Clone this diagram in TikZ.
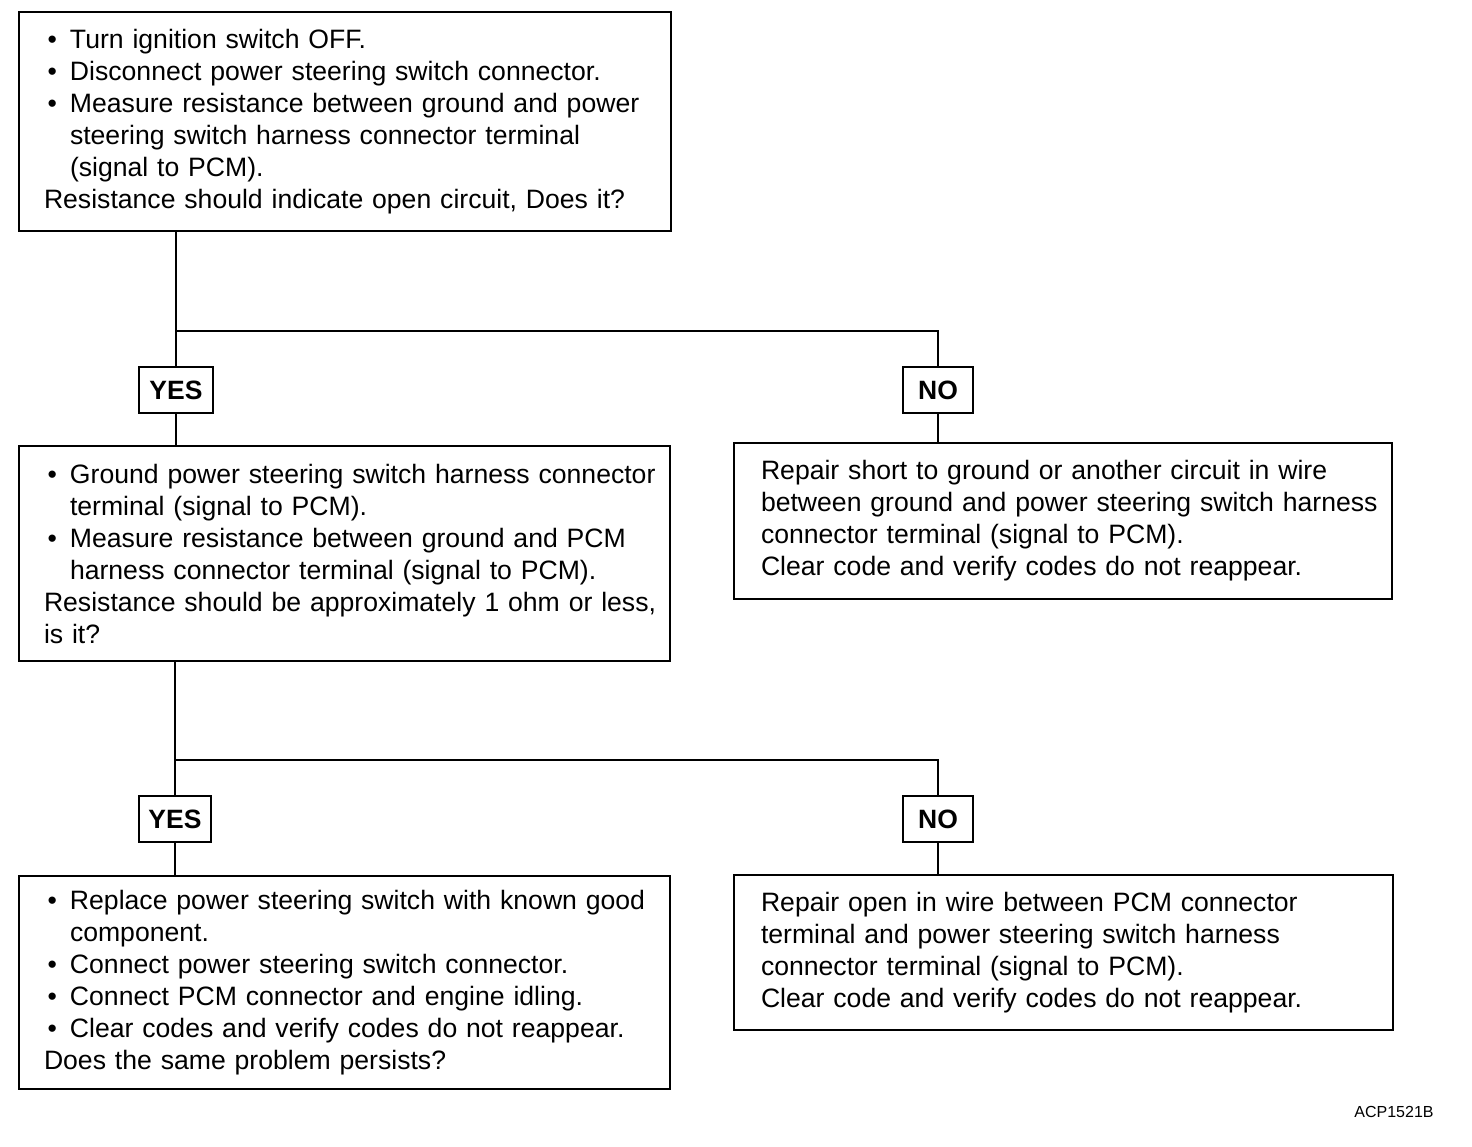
\documentclass[tikz,border=0pt]{standalone}
\usepackage{fontspec}
\setmainfont{Liberation Sans}
\newcommand\fbul[1]{\makebox[26pt][l]{\hspace{3.5pt}\textbullet}\mbox{#1}}
\newcommand\fcont[1]{\hspace*{26pt}\mbox{#1}}
\newcommand\fpl[1]{\mbox{#1}}
\begin{document}
\begin{tikzpicture}[x=1pt,y=-1pt,
  stepbox/.style={draw, line width=2.6pt, outer sep=0pt, anchor=north west, inner ysep=0pt, align=left, font=\fontsize{26.6}{32}\selectfont},
  ynbox/.style={draw, line width=2.6pt, minimum height=46pt, inner sep=0pt, font=\fontsize{26.5}{30}\selectfont\bfseries},
  conn/.style={line width=2.6pt}]
\fill[white] (0,0) rectangle (1472,1146);
\useasboundingbox (0,0) rectangle (1472,1146);

\node[stepbox, minimum width=652pt, minimum height=219pt, inner xsep=25pt, text width=602pt] (b1) at (19,12) {%
\fbul{Turn ignition switch OFF.}\\
\fbul{Disconnect power steering switch connector.}\\
\fbul{Measure resistance between ground and power}\\
\fcont{steering switch harness connector terminal}\\
\fcont{(signal to PCM).}\\
\fpl{Resistance should indicate open circuit, Does it?}};

\node[ynbox, minimum width=74pt] (y1) at (176,390) {YES};
\node[ynbox, minimum width=70pt] (n1) at (938,390) {NO};

\node[stepbox, minimum width=651pt, minimum height=215pt, inner xsep=25pt, text width=601pt] (b2) at (19,446) {%
\fbul{Ground power steering switch harness connector}\\
\fcont{terminal (signal to PCM).}\\
\fbul{Measure resistance between ground and PCM}\\
\fcont{harness connector terminal (signal to PCM).}\\
\fpl{Resistance should be approximately 1 ohm or less,}\\
\fpl{is it?}};

\node[stepbox, minimum width=658pt, minimum height=156pt, inner xsep=27pt, text width=604pt] (b3) at (734,443) {%
\fpl{Repair short to ground or another circuit in wire}\\
\fpl{between ground and power steering switch harness}\\
\fpl{connector terminal (signal to PCM).}\\
\fpl{Clear code and verify codes do not reappear.}};

\node[ynbox, minimum width=72pt] (y2) at (175,819) {YES};
\node[ynbox, minimum width=70pt] (n2) at (938,819) {NO};

\node[stepbox, minimum width=651pt, minimum height=213pt, inner xsep=25pt, text width=601pt] (b4) at (19,876) {%
\fbul{Replace power steering switch with known good}\\
\fcont{component.}\\
\fbul{Connect power steering switch connector.}\\
\fbul{Connect PCM connector and engine idling.}\\
\fbul{Clear codes and verify codes do not reappear.}\\
\fpl{Does the same problem persists?}};

\node[stepbox, minimum width=659pt, minimum height=155pt, inner xsep=27pt, text width=605pt] (b5) at (734,875) {%
\fpl{Repair open in wire between PCM connector}\\
\fpl{terminal and power steering switch harness}\\
\fpl{connector terminal (signal to PCM).}\\
\fpl{Clear code and verify codes do not reappear.}};

\coordinate (j1) at (176,331);
\coordinate (j2) at (175,760);

\draw[conn] (b1.south -| y1) -- (y1.north);
\draw[conn] (j1) -| (n1.north);
\draw[conn] (y1.south) -- (b2.north -| y1);
\draw[conn] (n1.south) -- (b3.north -| n1);

\draw[conn] (b2.south -| y2) -- (y2.north);
\draw[conn] (j2) -| (n2.north);
\draw[conn] (y2.south) -- (b4.north -| y2);
\draw[conn] (n2.south) -- (b5.north -| n2);

\node[font=\fontsize{16}{18}\selectfont] (lbl) at (1394,1112) {ACP1521B};
\end{tikzpicture}
\end{document}
